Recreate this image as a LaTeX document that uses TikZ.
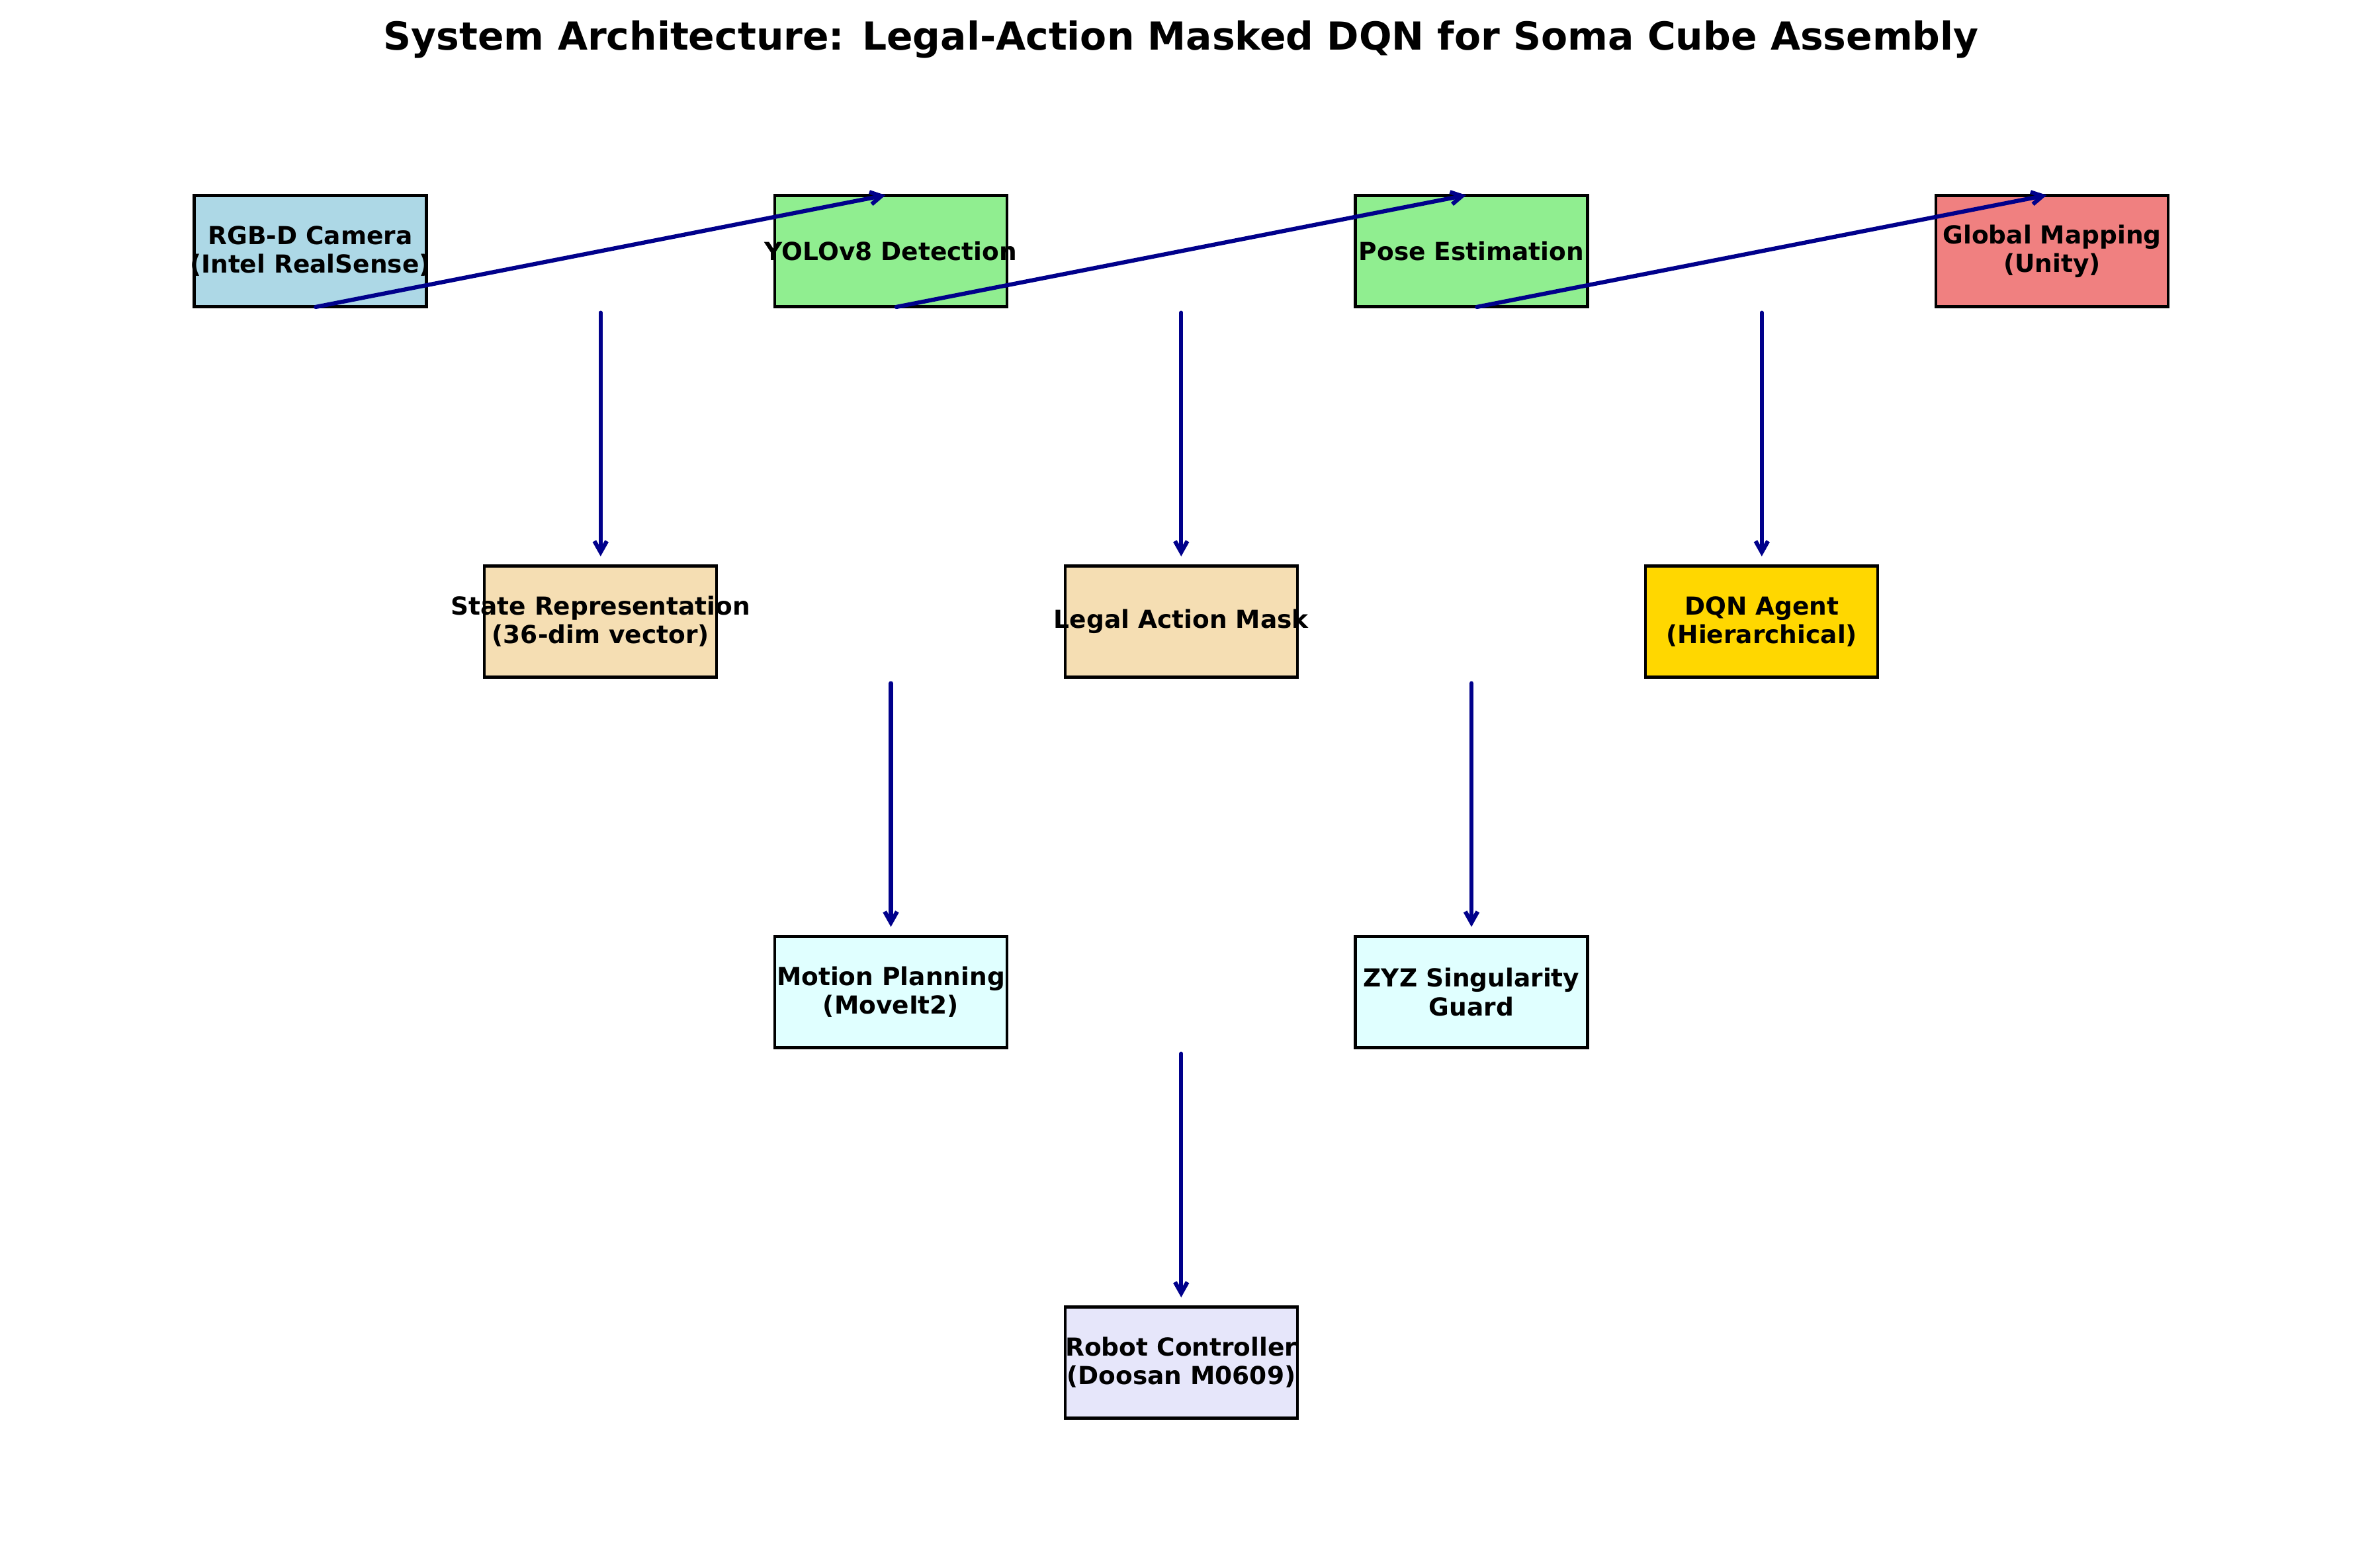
\documentclass[tikz,border=0pt]{standalone}
\usepackage{fontspec}
\setmainfont{DejaVu Sans}
\usetikzlibrary{arrows.meta}
\definecolor{lightblue}{HTML}{ADD8E6}
\definecolor{lightgreen}{HTML}{90EE90}
\definecolor{lightcoral}{HTML}{F08080}
\definecolor{wheat}{HTML}{F5DEB3}
\definecolor{gold}{HTML}{FFD700}
\definecolor{lightcyan}{HTML}{E0FFFF}
\definecolor{lavender}{HTML}{E6E6FA}
\definecolor{darkblue}{HTML}{00008B}

\begin{document}
\begin{tikzpicture}[x=3.7148cm, y=4.7413cm,
    box/.style={draw=black, line width=1bp, fill=#1, minimum width=2.9718cm, minimum height=1.4224cm, inner sep=0pt},
    lbl/.style={font=\bfseries\fontsize{9bp}{10.35bp}\selectfont, align=center},
    flow/.style={draw=darkblue, line width=1.5bp, -{Straight Barb[length=4bp,width=4.5bp]}, line cap=round, line join=round}]
    \useasboundingbox (-3.9709cm,3.2131cm) rectangle (26.255cm,-16.853cm);
    \node[anchor=base, font=\bfseries\fontsize{14bp}{17bp}\selectfont] (title) at (3,0.542) {System Architecture: Legal-Action Masked DQN for Soma Cube Assembly};

    \node[box=lightblue, label={[lbl]center:{RGB-D Camera\\(Intel RealSense)}}] (camera) at (0,0) {};
    \node[box=lightgreen, label={[lbl]center:{YOLOv8 Detection}}] (yolo) at (2,0) {};
    \node[box=lightgreen, label={[lbl]center:{Pose Estimation}}] (pose) at (4,0) {};
    \node[box=lightcoral, label={[lbl]center:{Global Mapping\\(Unity)}}] (mapping) at (6,0) {};
    \node[box=wheat, label={[lbl]center:{State Representation\\(36-dim vector)}}] (state) at (1,-1) {};
    \node[box=wheat, label={[lbl]center:{Legal Action Mask}}] (mask) at (3,-1) {};
    \node[box=gold, label={[lbl]center:{DQN Agent\\(Hierarchical)}}] (dqn) at (5,-1) {};
    \node[box=lightcyan, label={[lbl]center:{Motion Planning\\(MoveIt2)}}] (motion) at (2,-2) {};
    \node[box=lightcyan, label={[lbl]center:{ZYZ Singularity\\Guard}}] (guard) at (4,-2) {};
    \node[box=lavender, label={[lbl]center:{Robot Controller\\(Doosan M0609)}}] (robot) at (3,-3) {};

    % top row
    \draw[flow, shorten <=2bp, shorten >=2bp] (camera.south) -- (yolo.north);
    \draw[flow, shorten <=2bp, shorten >=2bp] (yolo.south) -- (pose.north);
    \draw[flow, shorten <=2bp, shorten >=2bp] (pose.south) -- (mapping.north);

    % downward
    \draw[flow, shorten <=1.7bp, shorten >=3bp] (state.north |- camera.south) -- (state.north);
    \draw[flow, shorten <=1.7bp, shorten >=3bp] (mask.north |- yolo.south) -- (mask.north);
    \draw[flow, shorten <=1.7bp, shorten >=3bp] (dqn.north |- pose.south) -- (dqn.north);
    \draw[flow, shorten <=1.7bp, shorten >=3bp] (motion.north |- state.south) -- (motion.north);
    \draw[flow, shorten <=1.7bp, shorten >=3bp] (guard.north |- mask.south) -- (guard.north);
    \draw[flow, shorten <=1.7bp, shorten >=3bp] (robot.north |- motion.south) -- (robot.north);
\end{tikzpicture}
\end{document}
